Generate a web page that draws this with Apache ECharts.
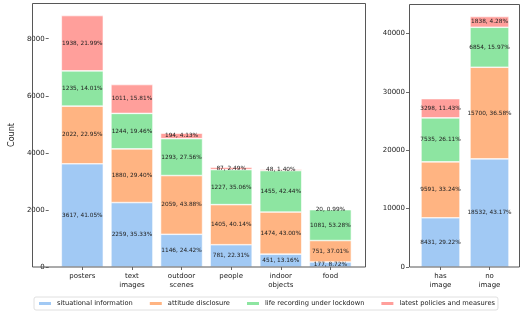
<!DOCTYPE html>
<html><head><meta charset="utf-8">
<script src="https://cdn.jsdelivr.net/npm/echarts@6/dist/echarts.min.js"></script>
<style>html,body{margin:0;padding:0;background:#fff}#c{width:524px;height:313px}</style>
</head><body><div id="c"></div>
<script>
const categories = ['posters', 'text\nimages', 'outdoor\nscenes', 'people', 'indoor\nobjects', 'food'];
const situational = [3617, 2259, 1146, 781, 451, 177];
const attitude = [2022, 1880, 2059, 1405, 1474, 751];
const lifeRec = [1235, 1244, 1293, 1227, 1455, 1081];
const latest = [1938, 1011, 194, 87, 48, 20];

const imgCategories = ['has\nimage', 'no\nimage'];
const imgSituational = [8431, 18532];
const imgAttitude = [9591, 15700];
const imgLife = [7535, 6854];
const imgLatest = [3298, 1838];

const seriesNames = ['situational information', 'attitude disclosure', 'life recording under lockdown', 'latest policies and measures'];
const colors = ['#a1c9f4', '#ffb482', '#8de5a1', '#ff9f9b'];
const FONT = 'DejaVu Sans';

const leftSets = [situational, attitude, lifeRec, latest];
const rightSets = [imgSituational, imgAttitude, imgLife, imgLatest];
const leftTotals = categories.map((_, i) => leftSets.reduce((s, a) => s + a[i], 0));
const rightTotals = imgCategories.map((_, i) => rightSets.reduce((s, a) => s + a[i], 0));

function mkSeries(sets, totals, axisIdx, barW) {
  return sets.map((arr, k) => ({
    name: seriesNames[k], type: 'bar', stack: 's' + axisIdx,
    xAxisIndex: axisIdx, yAxisIndex: axisIdx, barWidth: barW,
    itemStyle: { color: colors[k], borderColor: '#fff', borderWidth: 0.6 },
    label: { show: true, position: 'inside', fontSize: 5.8, fontFamily: FONT, color: '#222',
      formatter: p => p.value + ', ' + (p.value / totals[p.dataIndex] * 100).toFixed(2) + '%' },
    data: arr
  }));
}

const axisLbl = { fontSize: 7, fontFamily: FONT, color: '#222' };
const tick = { show: true, length: 3, lineStyle: { color: '#444', width: 0.8 } };
const plain = v => String(v);

const chart = echarts.init(document.getElementById('c'), null, { renderer: 'canvas' });
chart.setOption({
  animation: false,
  color: colors,
  grid: [
    { left: 40.8, right: 168.8, top: 3, bottom: 46 },
    { left: 416, right: 10, top: 4, bottom: 46 }
  ],
  xAxis: [
    { type: 'category', gridIndex: 0, data: categories, axisLine: { show: false },
      axisTick: Object.assign({ alignWithLabel: true }, tick), axisLabel: Object.assign({ margin: 4, lineHeight: 9.5, interval: 0 }, axisLbl) },
    { type: 'category', gridIndex: 1, data: imgCategories, axisLine: { show: false },
      axisTick: Object.assign({ alignWithLabel: true }, tick), axisLabel: Object.assign({ margin: 4, lineHeight: 9.5, interval: 0 }, axisLbl) }
  ],
  yAxis: [
    { type: 'value', gridIndex: 0, min: 0, max: Math.max(...leftTotals) * 1.05, interval: 2000, offset: 8.8,
      name: 'Count', nameLocation: 'middle', nameGap: 30, nameTextStyle: { fontSize: 8, fontFamily: FONT, color: '#222' },
      axisLine: { show: false }, axisTick: tick, splitLine: { show: false },
      axisLabel: Object.assign({ margin: 4, showMaxLabel: false, formatter: plain }, axisLbl) },
    { type: 'value', gridIndex: 1, min: 0, max: Math.max(...rightTotals) * 1.05, interval: 10000, offset: 7,
      axisLine: { show: false }, axisTick: tick, splitLine: { show: false },
      axisLabel: Object.assign({ margin: 4, showMaxLabel: false, formatter: plain }, axisLbl) }
  ],
  legend: {
    data: seriesNames, left: 34, top: 297, icon: 'rect', itemWidth: 14, itemHeight: 5, itemGap: 15,
    padding: [3, 3], borderColor: '#d8d8d8', borderWidth: 0.8, borderRadius: 2,
    textStyle: { fontSize: 6.7, fontFamily: FONT, color: '#222' }
  },
  graphic: [
    { type: 'rect', shape: { x: 32.5, y: 3.5, width: 333, height: 263.5 }, style: { fill: 'none', stroke: '#444', lineWidth: 0.9 }, z: 10, silent: true },
    { type: 'rect', shape: { x: 409.5, y: 4.5, width: 110, height: 262.5 }, style: { fill: 'none', stroke: '#444', lineWidth: 0.9 }, z: 10, silent: true }
  ],
  series: [].concat(mkSeries(leftSets, leftTotals, 0, 42), mkSeries(rightSets, rightTotals, 1, 39))
});
</script></body></html>
